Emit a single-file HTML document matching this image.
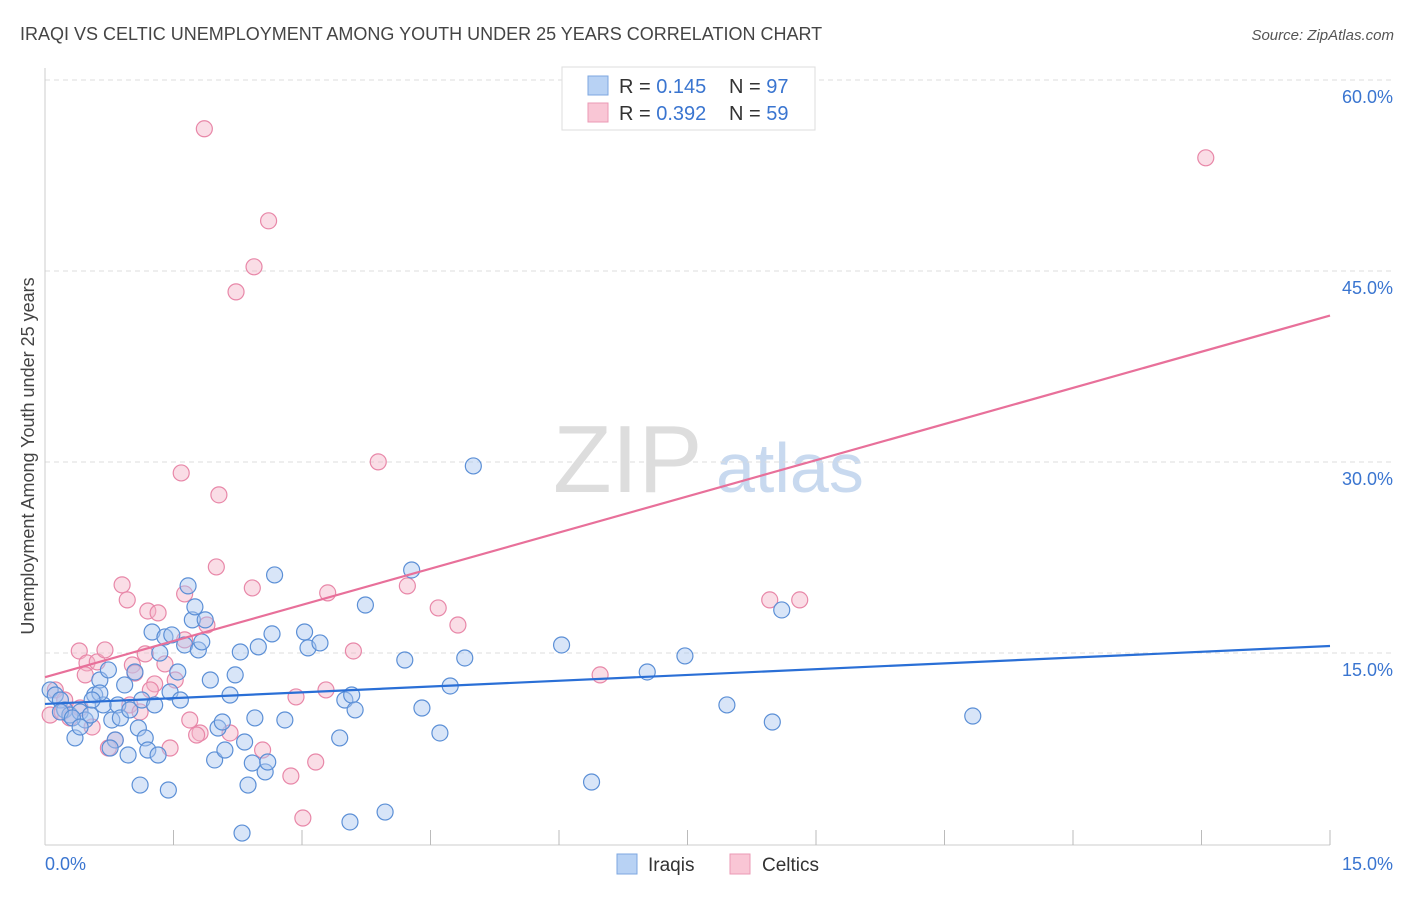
<!DOCTYPE html>
<html><head><meta charset="utf-8"><style>
body{margin:0;background:#fff;font-family:"Liberation Sans",sans-serif;}
svg text{font-family:"Liberation Sans",sans-serif;}
</style></head><body>
<svg id="chart" width="1406" height="892" xmlns="http://www.w3.org/2000/svg">
<text x="20" y="40" font-size="18" fill="#444">IRAQI VS CELTIC UNEMPLOYMENT AMONG YOUTH UNDER 25 YEARS CORRELATION CHART</text>
<text x="1394" y="40" font-size="15" fill="#555" text-anchor="end" font-style="italic">Source: ZipAtlas.com</text>
<text transform="translate(34,456) rotate(-90)" font-size="18" fill="#444" text-anchor="middle">Unemployment Among Youth under 25 years</text>
<g>
<text x="553" y="492" font-size="96" font-family="Liberation Serif" fill="#ddd">ZIP</text>
<text x="716" y="492" font-size="70" fill="#c8d9ef">atlas</text>
</g>
<g id="grid"></g><g id="axes"></g>
<g id="pinkPts"></g><g id="bluePts"></g><g id="lines"></g>
<g>
<rect x="562" y="67" width="253" height="63" fill="#fff" stroke="#ddd"/>
<rect x="588" y="76" width="20" height="19" fill="#b8d2f4" stroke="#7ea7e0"/>
<rect x="588" y="103" width="20" height="19" fill="#f9c6d5" stroke="#eb9ab5"/>
<text x="619" y="93" font-size="20" fill="#333">R = <tspan fill="#3a75d0">0.145</tspan></text>
<text x="729" y="93" font-size="20" fill="#333">N = <tspan fill="#3a75d0">97</tspan></text>
<text x="619" y="120" font-size="20" fill="#333">R = <tspan fill="#3a75d0">0.392</tspan></text>
<text x="729" y="120" font-size="20" fill="#333">N = <tspan fill="#3a75d0">59</tspan></text>
</g>
<g>
<rect x="617" y="854" width="20" height="20" fill="#b8d2f4" stroke="#7ea7e0"/>
<text x="648" y="871" font-size="19" fill="#333">Iraqis</text>
<rect x="730" y="854" width="20" height="20" fill="#f9c6d5" stroke="#eb9ab5"/>
<text x="762" y="871" font-size="19" fill="#333">Celtics</text>
</g>
</svg>
<script>
const yTicks=[15,30,45,60];
const xTickLabels=["0.0%","15.0%"];
const blueX=[.06,.12,.18,.23,.29,.35,.41,.47,.53,.58,.64,.68,.74,.78,.82,.85,.88,.93,.97,.99,1.05,1.09,1.13,1.17,1.20,1.25,1.28,1.32,1.34,1.40,1.46,1.48,1.55,1.58,1.63,1.67,1.72,1.75,1.79,1.83,1.87,1.93,1.98,2.02,2.07,2.10,2.16,2.22,2.28,2.30,2.33,2.37,2.42,2.45,2.49,2.57,2.60,2.65,2.68,2.80,3.03,3.07,3.21,3.44,3.50,3.56,3.58,3.62,3.74,3.97,4.20,4.28,4.40,4.61,4.73,4.90,5.00,6.03,6.38,7.03,7.47,7.96,8.49,8.60,10.83,.76,1.11,1.44,.64,.55,.18,.32,.41];
const blueY=[12.10,11.70,11.31,10.53,10.13,8.33,10.37,9.74,10.13,11.70,12.88,10.92,13.67,9.74,8.17,10.92,9.90,12.49,6.99,10.53,13.51,9.11,11.31,8.33,7.38,16.65,10.92,6.99,15.00,16.26,11.94,16.42,13.51,11.31,15.63,20.27,17.60,18.62,15.24,15.87,17.60,12.88,6.60,9.11,9.58,7.38,11.70,13.28,15.08,0.86,8.01,4.63,6.36,9.90,15.48,5.66,6.44,16.50,21.13,9.74,16.65,15.40,15.79,8.33,11.31,1.73,11.70,10.53,18.77,2.51,14.45,21.52,10.68,8.72,12.41,14.61,29.69,15.63,4.87,13.51,14.77,10.92,9.58,18.38,10.05,7.54,4.63,4.24,11.86,11.31,10.37,9.90,9.19];
const pinkX=[1.86,2.61,2.44,2.23,13.55,1.59,2.03,3.89,2.00,2.42,.90,.96,1.20,1.32,1.63,1.89,4.23,4.59,4.82,3.30,3.60,8.46,8.81,.40,.49,.61,.70,1.02,1.05,1.17,1.28,1.40,1.52,1.63,1.69,1.81,2.16,2.54,2.87,3.01,3.16,2.93,3.28,6.48,.06,.12,.20,.29,.47,.55,.74,.82,.99,1.11,1.23,1.46,1.77,.23,.41];
const pinkY=[56.17,48.94,45.33,43.36,53.89,29.14,27.42,30.01,21.76,20.11,20.35,19.17,18.30,18.15,19.64,17.20,20.27,18.54,17.20,19.72,15.16,19.17,19.17,15.16,14.22,14.30,15.24,14.06,13.43,14.93,12.57,14.14,12.88,16.03,9.74,8.72,8.72,7.38,5.34,2.04,6.44,11.55,12.10,13.28,10.13,12.10,10.37,9.90,13.28,9.19,7.54,8.17,10.92,10.37,12.10,7.54,8.56,11.31,10.68];
const blueTrend=[11.0,15.55];
const pinkTrend=[13.1,41.5];
const NS="http://www.w3.org/2000/svg";
const X0=45,X1=1330,Y0=844,PPY=191/15;
function sx(v){return X0+(v/15)*(X1-X0);}
function sy(v){return Y0-v*PPY;}
function mk(tag,attrs,parent){const e=document.createElementNS(NS,tag);for(const k in attrs)e.setAttribute(k,attrs[k]);parent.appendChild(e);return e;}
const grid=document.getElementById('grid');
yTicks.forEach(t=>{
  const l=mk('line',{x1:45,x2:1392,y1:sy(t),y2:sy(t),stroke:'#ddd','stroke-dasharray':'5,4'},grid);
  
  
  const tx=mk('text',{x:1393,y:sy(t)+23,'font-size':18,fill:'#3a75d0','text-anchor':'end'},grid);
  tx.textContent=t.toFixed(1)+'%';
  
  
});
const axes=document.getElementById('axes');
mk('line',{x1:45,x2:45,y1:68,y2:845,stroke:'#ccc'},axes);
mk('line',{x1:45,x2:1330,y1:845,y2:845,stroke:'#ccc'},axes);
for(let i=1;i<=10;i++){const x=sx(i*1.5);const t=mk('line',{x1:x,x2:x,y1:830,y2:845,stroke:'#bbb'},axes);
  
  }
const xl0=mk('text',{x:45,y:870,'font-size':18,fill:'#3a75d0'},axes);xl0.textContent=xTickLabels[0];


const xl1=mk('text',{x:1393,y:870,'font-size':18,fill:'#3a75d0','text-anchor':'end'},axes);xl1.textContent=xTickLabels[1];


function pts(xs,ys,g,fill,stroke,name){xs.forEach((x,i)=>{const c=mk('circle',{cx:sx(x),cy:sy(ys[i]),r:8,fill:fill,'fill-opacity':0.45,stroke:stroke,'stroke-width':1.2},g);
  
  });}
pts(pinkX,pinkY,document.getElementById('pinkPts'),'#f5b3c8','#e887a8','celtics-point');
pts(blueX,blueY,document.getElementById('bluePts'),'#a9c6ef','#5b8fd6','iraqis-point');
const lg=document.getElementById('lines');
const bl=mk('line',{x1:sx(0),y1:sy(blueTrend[0]),x2:sx(15),y2:sy(blueTrend[1]),stroke:'#2a6fd6','stroke-width':2.2},lg);


const pl=mk('line',{x1:sx(0),y1:sy(pinkTrend[0]),x2:sx(15),y2:sy(pinkTrend[1]),stroke:'#e8709a','stroke-width':2.2},lg);


</script>
</body></html>
